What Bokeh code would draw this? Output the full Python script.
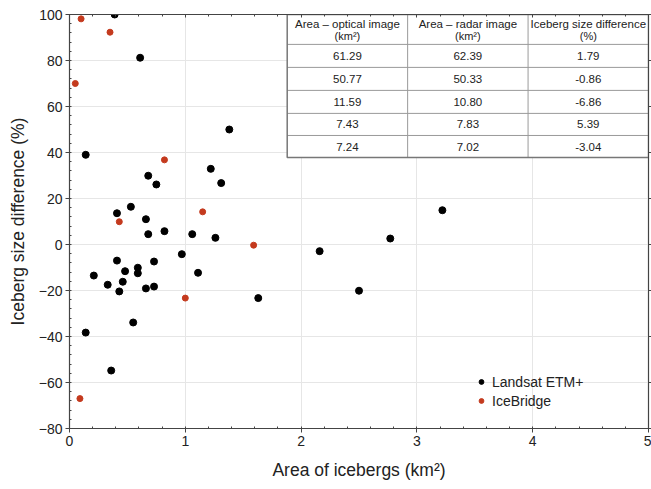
from bokeh.plotting import figure
from bokeh.models import LinearAxis, Range1d, Legend, LegendItem, FixedTicker
from bokeh.embed import file_html
from bokeh.resources import INLINE
from bokeh.core.properties import value

FONT = "Liberation Sans"

# Landsat ETM+ icebergs: area (km2) and size difference (%)
landsat_area = [0.39, 0.61, 0.14, 1.38, 0.68, 0.75, 1.22, 1.31, 0.53, 0.41,
                0.66, 0.68, 0.82, 1.06, 1.26, 0.97, 0.41, 0.73, 0.59, 0.59,
                0.48, 0.21, 0.33, 0.46, 0.43, 0.66, 0.73, 1.11, 1.63, 0.55,
                0.14, 0.36, 3.22, 2.77, 2.16, 2.50]
landsat_diff = [100.0, 81.2, 39.0, 50.0, 29.9, 26.1, 32.9, 26.7, 16.4, 13.6,
                11.0, 4.5, 5.8, 4.5, 2.9, -4.2, -7.0, -7.4, -10.1, -12.5,
                -11.6, -13.5, -17.5, -16.2, -20.4, -19.1, -18.3, -12.3, -23.3, -33.9,
                -38.3, -54.8, 14.9, 2.6, -2.9, -20.1]

# IceBridge icebergs
icebridge_area = [0.10, 0.35, 0.05, 0.82, 0.43, 1.15, 1.59, 1.00, 0.09]
icebridge_diff = [98.1, 92.3, 70.0, 36.8, 9.9, 14.2, -0.3, -23.3, -67.0]

# Large icebergs: optical vs radar areas
table_header_1 = ["Area \u2013 optical image", "Area \u2013 radar image", "Iceberg size difference"]
table_header_2 = ["(km\u00b2)", "(km\u00b2)", "(%)"]
area_optical = ["61.29", "50.77", "11.59", "7.43", "7.24"]
area_radar = ["62.39", "50.33", "10.80", "7.83", "7.02"]
size_difference = ["1.79", "-0.86", "-6.86", "5.39", "-3.04"]

x_ticks = [0, 1, 2, 3, 4, 5]
y_ticks = list(range(-80, 101, 20))

p = figure(width=651, height=489, x_range=Range1d(0, 5), y_range=Range1d(-80, 100),
           output_backend="svg", toolbar_location=None,
           min_border_left=69, min_border_right=3, min_border_top=14, min_border_bottom=61,
           background_fill_color="white", border_fill_color="white")

p.outline_line_color = "#444444"
p.outline_line_width = 1.2
p.xgrid.grid_line_color = "#e6e6e6"
p.ygrid.grid_line_color = "#e6e6e6"
x_ticker = FixedTicker(ticks=x_ticks, minor_ticks=[i * 0.2 for i in range(26)])
y_ticker = FixedTicker(ticks=y_ticks, minor_ticks=list(range(-80, 101, 4)))
p.xaxis.ticker = x_ticker
p.yaxis.ticker = y_ticker

for ax in (p.xaxis[0], p.yaxis[0]):
    ax.axis_line_color = "#444444"
    ax.major_tick_line_color = "#444444"
    ax.minor_tick_line_color = "#444444"
    ax.major_tick_in = 0
    ax.major_tick_out = 4
    ax.minor_tick_in = 2
    ax.minor_tick_out = 0
    ax.major_label_text_font = FONT
    ax.major_label_text_font_size = "14px"
    ax.major_label_text_color = "#222222"
    ax.axis_label_text_font = FONT
    ax.axis_label_text_font_size = "17.5px"
    ax.axis_label_text_font_style = "normal"
    ax.axis_label_text_color = "#222222"

p.xaxis.axis_label = "Area of icebergs (km\u00b2)"
p.yaxis.axis_label = "Iceberg size difference (%)"
p.xaxis.major_label_standoff = 3
p.yaxis.major_label_standoff = 3
p.xaxis.axis_label_standoff = 11
p.yaxis.axis_label_standoff = 8

# mirrored tick marks on the top and right edges (no labels)
top_ax = LinearAxis(ticker=x_ticker, major_label_overrides={t: "" for t in x_ticks},
                    major_label_standoff=0, major_tick_in=3, major_tick_out=0,
                    minor_tick_in=2, minor_tick_out=0,
                    axis_line_color="#444444", major_tick_line_color="#444444",
                    minor_tick_line_color="#444444")
right_ax = LinearAxis(ticker=y_ticker, major_label_overrides={t: "" for t in y_ticks},
                      major_label_standoff=0, major_tick_in=0, major_tick_out=3,
                      minor_tick_in=0, minor_tick_out=0,
                      axis_line_color="#444444", major_tick_line_color="#444444",
                      minor_tick_line_color="#444444")
p.add_layout(top_ax, "above")
p.add_layout(right_ax, "right")

r_land = p.scatter(landsat_area, landsat_diff, size=7, color="black")
r_ice = p.scatter(icebridge_area, icebridge_diff, size=6, color="#c43a1e")

# inset table, laid out in data units at the top right of the frame
col_edges = [1.88, 2.92, 3.96, 5.0]
row_edges = [100, 87, 77, 67, 57, 47.4, 37.8]
cols = [area_optical, area_radar, size_difference]

p.quad(left=[col_edges[0]], right=[col_edges[-1]], top=[row_edges[0]], bottom=[row_edges[-1]],
       fill_color="white", line_color=None)
# inner grid lines
p.segment(x0=col_edges[1:-1], y0=[row_edges[0]] * 2, x1=col_edges[1:-1], y1=[row_edges[-1]] * 2,
          line_color="#9a9a9a", line_width=1)
p.segment(x0=[col_edges[0]] * 5, y0=row_edges[1:-1], x1=[col_edges[-1]] * 5, y1=row_edges[1:-1],
          line_color="#9a9a9a", line_width=1)
# outer border
p.quad(left=[col_edges[0]], right=[col_edges[-1]], top=[row_edges[0]], bottom=[row_edges[-1]],
       fill_color=None, line_color="#777777", line_width=1.5)

centers = [(col_edges[i] + col_edges[i + 1]) / 2 for i in range(3)]
p.text(x=centers, y=[row_edges[0] - 4.0] * 3, text=table_header_1,
       text_font=value(FONT), text_font_size="11.5px", text_color="#222222",
       text_align="center", text_baseline="middle")
p.text(x=centers, y=[row_edges[0] - 9.3] * 3, text=table_header_2,
       text_font=value(FONT), text_font_size="11px", text_color="#222222",
       text_align="center", text_baseline="middle")

cell_x, cell_y, cell_t = [], [], []
for ci, col in enumerate(cols):
    for ri, t in enumerate(col):
        cell_x.append(centers[ci])
        cell_y.append((row_edges[ri + 1] + row_edges[ri + 2]) / 2)
        cell_t.append(t)
p.text(x=cell_x, y=cell_y, text=cell_t, text_font=value(FONT), text_font_size="11.5px",
       text_color="#222222", text_align="center", text_baseline="middle")

legend = Legend(items=[LegendItem(label="Landsat ETM+", renderers=[r_land]),
                       LegendItem(label="IceBridge", renderers=[r_ice])],
                location=(406, 18), padding=0, spacing=0, margin=0,
                label_height=19, glyph_height=19, glyph_width=12, label_standoff=5,
                label_text_font=FONT, label_text_font_size="14px", label_text_color="#222222",
                border_line_color=None, background_fill_alpha=0)
p.add_layout(legend)

open("out.html", "w").write(file_html(p, INLINE))
